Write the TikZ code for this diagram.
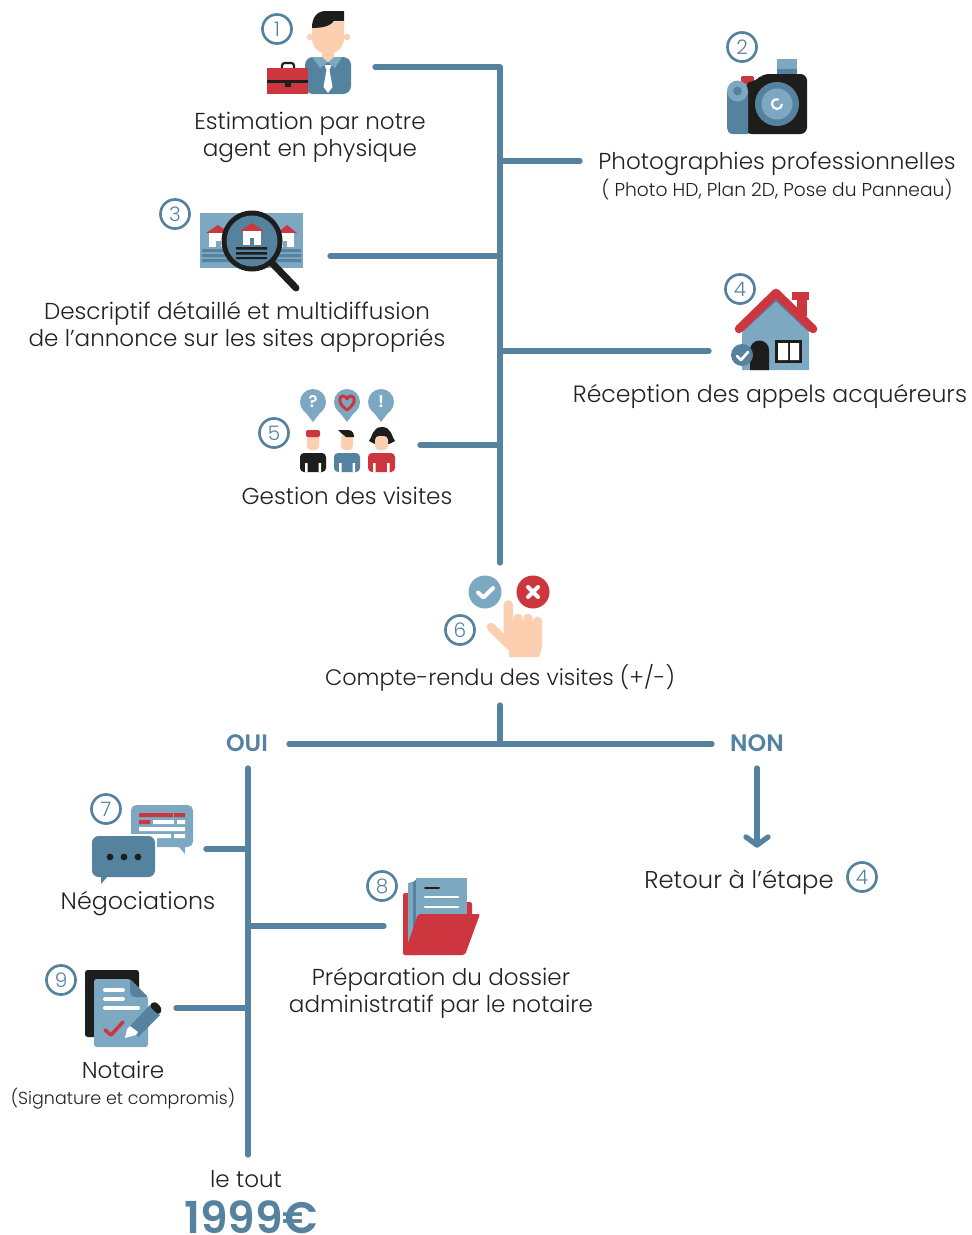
\documentclass[tikz,border=0pt]{standalone}
\usepackage{fontspec}
\setmainfont{Poppins}[UprightFont=* Light,BoldFont=* SemiBold]
\definecolor{bd}{HTML}{55839F}
\definecolor{bl}{HTML}{7CA8C2}
\definecolor{rd}{HTML}{CD363F}
\definecolor{bk}{HTML}{1D1D1B}
\definecolor{sk}{HTML}{FCCFB0}
\definecolor{tx}{HTML}{222222}
\tikzset{
  conn/.style={draw=bd,line width=4pt,line cap=round,line join=round},
  lbl/.style={text=tx,align=center,inner sep=0pt,anchor=base,font=\fontsize{#1}{20.25}\selectfont},
  lbl/.default=17.3,
  sm/.style={text=tx,align=center,inner sep=0pt,anchor=base,font=\fontsize{#1}{14}\selectfont},
  numc/.style={circle,draw=bd,line width=2pt,minimum size=21.8pt,inner sep=0pt,text=bd,font=\fontsize{15}{15}\selectfont},
  hd/.style={text=bd,inner sep=0pt,anchor=base,font=\bfseries\fontsize{17.8}{18}\selectfont},
}
\begin{document}
\begin{tikzpicture}[x=0.75pt,y=-0.75pt]
\useasboundingbox (0,0) rectangle (971,1235);
\fill[white] (0,0) rectangle (971,1235);
% ---------- connector ends
\coordinate (a0) at (375,67); \coordinate (a1) at (500,67); \coordinate (a2) at (500,563);
\coordinate (b0) at (500,161); \coordinate (b1) at (580,161);
\coordinate (c0) at (330,256); \coordinate (c1) at (500,256);
\coordinate (d0) at (500,351); \coordinate (d1) at (709,351);
\coordinate (e0) at (420,445); \coordinate (e1) at (500,445);
\coordinate (f0) at (500,705); \coordinate (f1) at (500,744);
\coordinate (g0) at (289,744); \coordinate (g1) at (712,744);
\coordinate (h0) at (248,768); \coordinate (h1) at (248,1155);
\coordinate (i0) at (206,849); \coordinate (i1) at (248,849);
\coordinate (j0) at (248,926); \coordinate (j1) at (384,926);
\coordinate (k0) at (176,1008); \coordinate (k1) at (248,1008);
\coordinate (m0) at (757,768); \coordinate (m1) at (757,845);
\coordinate (m2) at (746,837); \coordinate (m3) at (768,837);
\draw[conn] (a0) -- (a1) -- (a2);
\draw[conn] (b0) -- (b1);
\draw[conn] (c0) -- (c1);
\draw[conn] (d0) -- (d1);
\draw[conn] (e0) -- (e1);
\draw[conn] (f0) -- (f1);
\draw[conn] (g0) -- (g1);
\draw[conn] (h0) -- (h1);
\draw[conn] (i0) -- (i1);
\draw[conn] (j0) -- (j1);
\draw[conn] (k0) -- (k1);
\draw[conn] (m0) -- (m1);
\draw[conn] (m2) -- (m1) -- (m3);
% ---------- numbers
\node[numc] (n1) at (277,29) {1};
\node[numc] (n2) at (742,47) {2};
\node[numc] (n3) at (175,214) {3};
\node[numc] (n4) at (740,289) {4};
\node[numc] (n5) at (274,433) {5};
\node[numc] (n6) at (460,630) {6};
\node[numc] (n7) at (106,809) {7};
\node[numc] (n8) at (382,886) {8};
\node[numc] (n9) at (61,980) {9};
\node[numc] (n4b) at (862,877) {4};
% ---------- icon 1: agent
\fill[sk] (310,37) circle (3.2) (347,37) circle (3.2);
\fill[sk] (322,50) rectangle (334,62);
\fill[bd,rounded corners=6pt] (305,94) -- (305,57) -- (351,57) -- (351,94) -- cycle;
\fill[bl] (312,57) -- (342,57) -- (335,68) -- (328,62) -- (320,68) -- cycle;
\fill[sk] (322,57) -- (334,57) -- (328,62) -- cycle;
\fill[sk] (312,22) -- (344,22) -- (344,38) .. controls (344,48) and (336,54) .. (328,54) .. controls (320,54) and (312,48) .. (312,38) -- cycle;
\fill[bk] (312,28) .. controls (312,16) and (318,11) .. (326,11) -- (344,11) -- (344,21) -- (334,21) .. controls (331,25) and (325,28) .. (312,28) -- cycle;
\fill[white] (324.5,65) -- (331.5,65) -- (329.5,70) -- (332.5,87) -- (328,93) -- (323.5,87) -- (326.5,70) -- cycle;
\draw[bk,line width=1.6pt,rounded corners=2pt] (282,68) -- (282,63) -- (294,63) -- (294,68);
\fill[rd] (267,68) rectangle (308,94);
\fill[bk] (267,80) rectangle (308,83);
\fill[bk] (285,83) rectangle (291,87);
% ---------- icon 2: camera
\fill[bl] (777,59) rectangle (797,75);
\fill[bd] (777,69) rectangle (797,75);
\fill[rd,rounded corners=1pt] (741,76) rectangle (754,84);
\fill[bk,rounded corners=5pt] (745,134) -- (745,82) -- (755,82) -- (762,74) -- (807,74) -- (807,134) -- cycle;
\fill[bd] (727,91) -- (748,91) -- (748,134) -- (733,134) .. controls (729,134) and (727,131) .. (727,128) -- cycle;
\fill[bl] (737.5,91) circle (10.5);
\fill[bd] (737.5,91) circle (4.4);
\fill[bd] (777,104) circle (22);
\fill[bl] (777,104) circle (15.5);
\draw[white,line width=1.6pt] (782,104) arc (0:290:5);
% ---------- icon 3: magnifier
\fill[bl] (200,213) rectangle (303,268);
\fill[rd] (206,233) -- (218,225) -- (230,233) -- cycle;
\fill[white] (209,233) rectangle (226,247);
\fill[bl] (216,241) rectangle (221,247);
\fill[rd] (277,233) -- (287,225) -- (297,233) -- cycle;
\fill[white] (280,233) rectangle (294,247);
\fill[bl] (283,241) rectangle (287,247);
\fill[bd] (202,249) rectangle (301,252) (202,254) rectangle (301,257) (202,259) rectangle (301,262);
\draw[bk,line width=5.2pt,line cap=round] (272,263) -- (296,288);
\fill[bk] (252,241) circle (30.5);
\fill[bd] (252,241) circle (25.5);
\fill[rd] (240,231) -- (252,223) -- (264,231) -- cycle;
\fill[white] (243,231) rectangle (261,245);
\fill[bd] (250,238) rectangle (254,245);
\fill[bk] (236,247) rectangle (267,249.5) (236,252) rectangle (267,254.5) (236,257) rectangle (267,259);
% ---------- icon 4: house
\fill[bl] (742,333) -- (776,302) -- (809,333) -- (809,370) -- (742,370) -- cycle;
\draw[bd,line width=2pt] (742,331) -- (776,300) -- (809,331);
\fill[rd] (792,292) rectangle (809,300);
\fill[rd] (797,298) rectangle (807,316);
\draw[rd,line width=6.4pt,line cap=round,line join=round] (739,329) -- (776,293) -- (813,329);
\fill[bk] (750,370) -- (750,350) arc (180:360:9.5) -- (769,370) -- cycle;
\fill[bk] (775,340) rectangle (802,363);
\fill[white] (778,343) rectangle (788,360) (790,343) rectangle (799,360);
\fill[bd] (742,355) circle (11);
\draw[white,line width=2pt,line cap=round,line join=round] (737,356) -- (741,360) -- (748,352);
% ---------- icon 5: visits
\foreach \cx in {313,347,381}{
  \fill[bl] (\cx-10,409) -- (\cx,422) -- (\cx+10,409) -- cycle;
  \fill[bl] (\cx,402) circle (13);
}
\node[text=white,inner sep=0pt,font=\bfseries\fontsize{12.5}{13}\selectfont] (q1) at (313,402) {?};
\node[text=white,inner sep=0pt,font=\bfseries\fontsize{12.5}{13}\selectfont] (q3) at (381,402) {!};
\draw[rd,line width=2.2pt,line join=round] (347,410) .. controls (338,404) and (338,396) .. (343,396) .. controls (345,396) and (347,398) .. (347,399) .. controls (347,398) and (349,396) .. (351,396) .. controls (356,396) and (356,404) .. (347,410) -- cycle;
% people
\fill[sk,rounded corners=3pt] (307,434) rectangle (319,450);
\fill[rd,rounded corners=1.5pt] (306,430) rectangle (320,437);
\fill[bk,rounded corners=3pt] (300,472) -- (300,453) -- (326,453) -- (326,472) -- cycle;
\fill[sk,rounded corners=3pt] (341,434) rectangle (353,450);
\fill[bk] (338,430) -- (348,430) .. controls (352,430) and (354,433) .. (354,437) -- (346,437) .. controls (343,434) and (340,433) .. (338,430) -- cycle;
\fill[bd,rounded corners=3pt] (334,472) -- (334,453) -- (360,453) -- (360,472) -- cycle;
\fill[bk] (369,441) .. controls (372,438) and (372,427) .. (382,427) .. controls (392,427) and (392,438) .. (395,441) -- (389,444) -- (375,444) -- cycle;
\fill[sk,rounded corners=3pt] (375,436) rectangle (388,450);
\fill[rd,rounded corners=3pt] (368,472) -- (368,453) -- (395,453) -- (395,472) -- cycle;
\fill[white] (305,463) rectangle (307.5,472) (318.5,463) rectangle (321,472)
  (339,463) rectangle (341.5,472) (352.5,463) rectangle (355,472)
  (373,463) rectangle (375.5,472) (387,463) rectangle (389.5,472);
% ---------- icon 6: hand
\fill[bl] (485,592) circle (16.5);
\draw[white,line width=3pt,line cap=round,line join=round] (478,592.5) -- (483.5,597.5) -- (493,588);
\fill[rd] (533,592) circle (16.5);
\draw[white,line width=3pt,line cap=round] (528,587) -- (538,597) (538,587) -- (528,597);
\fill[sk] (518,618.5) circle (4.8) (528,618.5) circle (4.8) (537.5,621.5) circle (4.8);
\fill[sk] (503.5,605) arc (180:360:4.8) -- (513,620) -- (542,621) -- (542,647) -- (539,657) -- (509,657) -- (509,645) -- (503.5,632) -- cycle;
\draw[sk,line width=6.4pt,line cap=round] (491,627) -- (511,647);
% ---------- icon 7: chat
\fill[bl] (178,846) -- (185,854) -- (185,846) -- cycle;
\fill[bl,rounded corners=4pt] (131,805) rectangle (193,847);
\fill[rd] (139,813) rectangle (173,817) (174,813) rectangle (185,817) (139,820) rectangle (150,824);
\fill[white] (153,820) rectangle (174,824) (177,820) rectangle (185,824) (139,827) rectangle (185,831) (157,834) rectangle (171,838) (174,834) rectangle (185,838);
\fill[white] (90,834) rectangle (157,879);
\fill[bd] (101,876) -- (101,884) -- (108,876) -- cycle;
\fill[bd,rounded corners=5pt] (92,836) rectangle (155,877);
\fill[bk] (110,857) circle (3.4) (124,857) circle (3.4) (138,857) circle (3.4);
% ---------- icon 8: folder
\fill[rd,rounded corners=1.5pt] (403,893) rectangle (420,955);
\fill[rd,rounded corners=1.5pt] (460,902) rectangle (472,920);
\fill[bl] (408,883) -- (416,881) -- (420,940) -- (408,945) -- cycle;
\fill[bd] (413,882) -- (417,879) -- (420,930) -- (413,940) -- cycle;
\fill[bl] (416,878) rectangle (467,920);
\draw[bk,line width=1.5pt,line cap=round] (425,888) -- (439,888);
\draw[white,line width=2pt,line cap=round] (425,897) -- (458,897) (425,907) -- (458,907);
\fill[rd,rounded corners=1.5pt] (418,914) -- (480,914) -- (465,955) -- (404,955) -- cycle;
% ---------- icon 9: notary
\fill[bk,rounded corners=2pt] (85,970) rectangle (139,1037);
\fill[bl,rounded corners=2pt] (94,979) -- (130,979) -- (148,997) -- (148,1047) -- (94,1047) -- cycle;
\fill[bd,rounded corners=1.5pt] (130,979) -- (148,997) -- (133,997) -- (130,994) -- cycle;
\draw[white,line width=3pt,line cap=round] (105,990) -- (123,990) (105,999) -- (123,999) (105,1008) -- (138,1008);
\draw[rd,line width=2.6pt,line cap=round,line join=round] (105,1030) -- (111,1035) -- (123,1022);
\fill[bd] (130,1026) -- (150,1005) -- (160,1015) -- (138,1037) -- cycle;
\fill[bk,rounded corners=2.5pt] (149,1005) -- (155,1001) -- (162,1008) -- (160,1015) -- (155,1012) -- cycle;
\fill[white] (125,1038) -- (127,1029) -- (130,1026) -- (138,1032) -- (136,1035) -- cycle;
% ---------- labels
\node[lbl] (t1) at (310,156) {Estimation par notre\\agent en physique};
\node[lbl] (t2) at (777,169) {Photographies professionnelles};
\node[sm=14] (t2b) at (777,196) {( Photo HD, Plan 2D, Pose du Panneau)};
\node[lbl] (t3) at (237,346) {Descriptif détaillé et multidiffusion\\de l’annonce sur les sites appropriés};
\node[lbl=17.7] (t4) at (770,402) {Réception des appels acquéreurs};
\node[lbl] (t5) at (347,504) {Gestion des visites};
\node[lbl=16.8] (t6) at (500,685) {Compte-rendu des visites (+/-)};
\node[hd] (oui) at (247,751) {OUI};
\node[hd] (non) at (757,751) {NON};
\node[lbl=17.8] (t7) at (138,909) {Négociations};
\node[lbl] (t8) at (441,1012) {Préparation du dossier\\administratif par le notaire};
\node[lbl] (t9) at (123,1078) {Notaire};
\node[sm=13.1] (t9b) at (123,1104) {(Signature et compromis)};
\node[lbl=18.2] (t10) at (739,888) {Retour à l’étape};
\node[lbl] (t11) at (246,1187) {le tout};
\node[text=bd,inner sep=0pt,anchor=base,font=\bfseries\fontsize{33}{34}\selectfont] (price) at (251,1233) {1999€};
\end{tikzpicture}
\end{document}
